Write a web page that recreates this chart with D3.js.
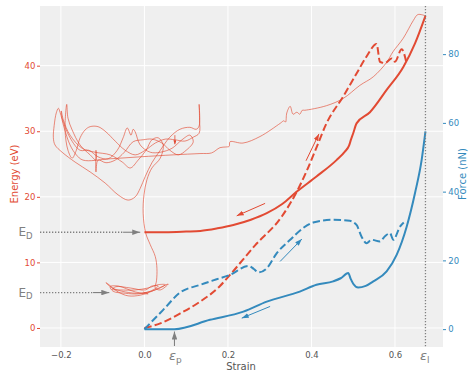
<!DOCTYPE html>
<html>
<head>
<meta charset="utf-8">
<script src="https://cdn.jsdelivr.net/npm/d3@7"></script>
<style>
  body { margin: 0; background: #fff; }
  text { font-family: "DejaVu Sans", sans-serif; }
</style>
</head>
<body>
<svg id="chart" width="468" height="372"></svg>
<script>
// ---- tick values / labels ----
const strainTicks = [-0.2, 0, 0.2, 0.4, 0.6];
const strainTickLabels = ["\u22120.2", "0.0", "0.2", "0.4", "0.6"];
const energyTicks = [0, 10, 20, 30, 40];
const forceTicks = [0, 20, 40, 60, 80];

// ---- energy (eV) vs strain ----
// relaxed path, solid
const energyRelaxed = [
  [0, 14.6], [0.05, 14.6], [0.10, 14.7], [0.134, 14.8], [0.175, 15.2], [0.213, 15.7],
  [0.255, 16.5], [0.293, 17.5], [0.33, 18.9], [0.365, 20.8], [0.412, 23.1], [0.46, 25.6],
  [0.48, 26.9], [0.49, 27.8], [0.495, 28.8], [0.50, 29.7], [0.508, 31.2], [0.54, 32.9],
  [0.58, 36.3], [0.62, 39.8], [0.648, 43.4], [0.673, 47.6]
];
// loading path from the pristine state, dashed
const energyLoading = [
  [0, 0], [0.038, 0.7], [0.085, 2.2], [0.133, 4.0], [0.181, 6.4], [0.205, 8.1],
  [0.265, 12.6], [0.329, 17.0], [0.365, 20.8], [0.389, 24.0], [0.41, 27.2], [0.436, 31.2],
  [0.476, 35.3], [0.508, 38.8], [0.532, 41.4], [0.556, 43.3], [0.564, 40.6], [0.576, 40.4],
  [0.592, 41.1], [0.600, 40.6], [0.616, 42.5], [0.628, 40.3]
];
// unloading trajectory, thin
const energyTrajectory = [
  [0.673, 47.6], [0.655, 47.8], [0.644, 46.9], [0.620, 44.2], [0.595, 42.1], [0.580, 40.5],
  [0.548, 38.3], [0.516, 37.0], [0.476, 35.0], [0.436, 33.9], [0.384, 33.2], [0.378, 33.2],
  [0.372, 32.6], [0.365, 32.9], [0.356, 32.6], [0.349, 33.8], [0.341, 32.8], [0.338, 31.4],
  [0.334, 31.6], [0.325, 31.2], [0.277, 29.2], [0.236, 28.2], [0.205, 28.4], [0.203, 27.7],
  [0.195, 27.6], [0.181, 27.5], [0.161, 26.7], [0.133, 26.6], [0.069, 26.4], [-0.010, 26.1],
  [-0.082, 25.8], [-0.147, 25.6],
  [-0.163, 26.4], [-0.178, 27.9], [-0.192, 30.5], [-0.202, 32.9], [-0.206, 33.5], [-0.211, 32.8],
  [-0.216, 30.9], [-0.218, 29.0], [-0.214, 27.9], [-0.197, 26.8], [-0.166, 25.3], [-0.130, 23.8],
  [-0.094, 22.1], [-0.063, 20.3], [-0.039, 19.5], [-0.022, 20.0], [-0.010, 21.3], [0.002, 23.1],
  [0.018, 25.2], [0.038, 27.1], [0.061, 29.1], [0.085, 30.3], [0.109, 30.6], [0.124, 30.3],
  [0.131, 30.8], [0.131, 34.1], [0.132, 31.7], [0.131, 29.7], [0.117, 29.1], [0.097, 28.5],
  [0.073, 28.7], [0.050, 28.8], [0.026, 28.2], [0.002, 27.1], [-0.022, 26.4], [-0.046, 27.1],
  [-0.070, 28.5], [-0.092, 29.9], [-0.111, 30.7], [-0.130, 30.7], [-0.142, 30.2], [-0.154, 29.0],
  [-0.163, 27.1], [-0.173, 25.9], [-0.183, 27.1], [-0.190, 30.2], [-0.186, 34.1], [-0.183, 32.0],
  [-0.173, 30.2], [-0.154, 27.9], [-0.130, 26.4], [-0.116, 25.6], [-0.116, 27.1], [-0.116, 23.8],
  [-0.111, 25.6], [-0.092, 25.2], [-0.070, 25.6], [-0.048, 26.8], [-0.027, 28.4], [-0.003, 28.7],
  [0.018, 28.8], [0.042, 28.2], [0.061, 27.1], [0.081, 26.4], [0.100, 27.1], [0.117, 28.4],
  [0.109, 29.4], [0.090, 28.7], [0.066, 27.4], [0.038, 26.8], [0.014, 26.8], [-0.010, 27.9],
  [-0.022, 29.9], [-0.027, 30.3], [-0.032, 29.4], [-0.041, 30.5], [-0.051, 29.0], [-0.065, 27.1],
  [-0.087, 25.8], [-0.111, 26.1], [-0.133, 27.1], [-0.154, 27.1], [-0.178, 29.0], [-0.197, 32.0],
  [-0.199, 33.1], [-0.194, 31.7], [-0.178, 29.4], [-0.149, 27.4], [-0.118, 26.8], [-0.082, 26.4],
  [-0.053, 25.3], [-0.034, 24.4], [-0.015, 25.6], [0.004, 27.1], [0.018, 28.7], [0.033, 29.0],
  [0.045, 27.9], [0.038, 25.9], [0.018, 24.4], [0.006, 22.6], [-0.001, 20.3], [-0.003, 17.5],
  [0.003, 14.5], [0.014, 12.7], [0.026, 10.9], [0.030, 9.1], [0.029, 7.2], [0.026, 6.1],
  [0.038, 5.8], [0.057, 6.7], [0.042, 6.3], [0.014, 5.5], [-0.010, 5.0], [-0.039, 4.9],
  [-0.063, 5.5], [-0.087, 6.7], [-0.092, 6.9], [-0.077, 6.1], [-0.046, 5.5], [-0.010, 5.3],
  [0.026, 5.8], [0.050, 6.6], [0.033, 6.6], [0.009, 6.1], [-0.022, 5.8], [-0.058, 5.8],
  [-0.077, 5.9], [-0.068, 6.3], [-0.034, 6.1], [0.002, 5.8], [0.018, 6.4], [0.033, 6.4],
  [0.014, 5.6], [-0.015, 5.2], [-0.046, 5.3], [-0.075, 5.6], [-0.082, 6.3], [-0.063, 6.4],
  [-0.022, 5.5], [0.009, 5.2], [-0.003, 5.5]
];

// ---- force (nN) vs strain ----
const forceRelaxed = [
  [0, 0], [0.072, 0], [0.157, 2.7], [0.237, 5.1], [0.293, 8.0], [0.372, 10.9], [0.412, 12.9],
  [0.452, 13.9], [0.47, 14.8], [0.488, 16.3], [0.494, 14.6], [0.50, 13.2], [0.512, 12.1],
  [0.53, 12.6], [0.548, 13.9], [0.58, 16.8], [0.604, 21.6], [0.628, 29.8], [0.648, 39.6],
  [0.664, 49.3], [0.673, 57.5]
];
const forceLoading = [
  [0, 0], [0.045, 5.6], [0.085, 10.6], [0.134, 12.9], [0.173, 14.5], [0.205, 15.8],
  [0.249, 18.4], [0.262, 17.5], [0.273, 16.5], [0.293, 17.7], [0.317, 22.1], [0.349, 26.0],
  [0.38, 29.4], [0.404, 31.0], [0.452, 31.8], [0.492, 31.5], [0.508, 30.3], [0.52, 26.9],
  [0.532, 25.0], [0.544, 26.0], [0.564, 25.5], [0.576, 27.0], [0.588, 27.9], [0.596, 26.0],
  [0.612, 29.8], [0.621, 31.0]
];

// ---- markers ----
const edLevels = [14.6, 5.4];            // E_D energies
const edArrowTail = [-0.051, -0.123];    // strain where the arrow shafts begin
const edArrowTip = [-0.010, -0.084];     // strain of the arrow tips
const strainP = 0.072;
const strainL = 0.673;
const energyArrows = [
  [[0.387, 25.5], [0.418, 29.6]],
  [[0.289, 19.0], [0.221, 17.1]],
  [[0.073, 29.4], [0.073, 28.0]]
];
const forceArrows = [
  [[0.325, 19.7], [0.377, 26.2]],
  [[0.301, 6.6], [0.233, 3.2]]
];

// ---- colours ----
const RED = "#E24A33", BLUE = "#348ABD", GREY = "#808080";

const svg = d3.select("#chart");
const pL = 40, pR = 443, pT = 6, pB = 347;

const sx = d3.scaleLinear().domain([-0.25, 0.715]).range([pL, pR]);
const sy = d3.scaleLinear().domain([-2.9, 49.1]).range([pB, pT]);
const sf = d3.scaleLinear().domain([-5.2, 94.0]).range([pB, pT]);

// arrow heads
const defs = svg.append("defs");
function head(id, color, len, wid) {
  defs.append("marker")
    .attr("id", id).attr("markerUnits", "userSpaceOnUse")
    .attr("viewBox", `0 0 ${len} ${wid}`)
    .attr("refX", len).attr("refY", wid / 2)
    .attr("markerWidth", len).attr("markerHeight", wid)
    .attr("orient", "auto")
    .append("path").attr("d", `M0,0L${len},${wid / 2}L0,${wid}Z`).attr("fill", color);
}
head("hRed", RED, 7, 5);
head("hBlue", BLUE, 7, 5);
head("hGrey", GREY, 8, 5.5);
head("hRedSmall", RED, 4, 3);

defs.append("clipPath").attr("id", "plotClip")
  .append("rect").attr("x", pL).attr("y", pT).attr("width", pR - pL).attr("height", pB - pT);

// background + grid
svg.append("rect").attr("x", pL).attr("y", pT).attr("width", pR - pL).attr("height", pB - pT)
  .attr("fill", "#efefef");
const grid = svg.append("g").attr("stroke", "#fff").attr("stroke-width", 1);
strainTicks.forEach(t => grid.append("line").attr("x1", sx(t)).attr("x2", sx(t)).attr("y1", pT).attr("y2", pB));
energyTicks.forEach(t => grid.append("line").attr("y1", sy(t)).attr("y2", sy(t)).attr("x1", pL).attr("x2", pR));

// axes
const xAxis = svg.append("g").attr("transform", `translate(0,${pB})`)
  .call(d3.axisBottom(sx).tickValues(strainTicks).tickFormat((d, i) => strainTickLabels[i]).tickSize(0).tickPadding(4.5));
const yAxis = svg.append("g").attr("transform", `translate(${pL},0)`)
  .call(d3.axisLeft(sy).tickValues(energyTicks).tickSize(3).tickPadding(1.7));
const fAxis = svg.append("g").attr("transform", `translate(${pR},0)`)
  .call(d3.axisRight(sf).tickValues(forceTicks).tickSize(3).tickPadding(2.3));
[xAxis, yAxis, fAxis].forEach(a => {
  a.select(".domain").remove();
  a.selectAll("text").attr("font-size", "8.5px").attr("font-family", "DejaVu Sans");
});
xAxis.selectAll("text").attr("fill", "#555");
yAxis.selectAll("text").attr("fill", RED);
yAxis.selectAll("line").attr("stroke", RED);
fAxis.selectAll("text").attr("fill", BLUE);
fAxis.selectAll("line").attr("stroke", BLUE);

// axis titles
svg.append("text").attr("x", 241).attr("y", 370).attr("text-anchor", "middle")
  .attr("font-size", "10px").attr("fill", "#555").text("Strain");
svg.append("text").attr("transform", "translate(18,174) rotate(-90)").attr("text-anchor", "middle")
  .attr("font-size", "10px").attr("fill", RED).text("Energy (eV)");
svg.append("text").attr("transform", "translate(465.5,174) rotate(-90)").attr("text-anchor", "middle")
  .attr("font-size", "10px").attr("fill", BLUE).text("Force (nN)");

// curves
const plot = svg.append("g").attr("clip-path", "url(#plotClip)");
const mono = d3.curveMonotoneX;
const eLine = d3.line().x(d => sx(d[0])).y(d => sy(d[1]));
const fLine = d3.line().x(d => sx(d[0])).y(d => sf(d[1]));

plot.append("path")
  .attr("d", eLine.curve(d3.curveCatmullRom.alpha(0.5))(energyTrajectory))
  .attr("fill", "none").attr("stroke", RED).attr("stroke-width", 0.8).attr("stroke-opacity", 0.8);

plot.append("path").attr("d", eLine.curve(mono)(energyRelaxed))
  .attr("fill", "none").attr("stroke", RED).attr("stroke-width", 2);
plot.append("path").attr("d", eLine.curve(mono)(energyLoading))
  .attr("fill", "none").attr("stroke", RED).attr("stroke-width", 2).attr("stroke-dasharray", "7.4,3.2");
plot.append("path").attr("d", fLine.curve(mono)(forceRelaxed))
  .attr("fill", "none").attr("stroke", BLUE).attr("stroke-width", 2);
plot.append("path").attr("d", fLine.curve(mono)(forceLoading))
  .attr("fill", "none").attr("stroke", BLUE).attr("stroke-width", 2).attr("stroke-dasharray", "7.4,3.2");

// direction arrows
energyArrows.forEach((a, i) => {
  plot.append("line")
    .attr("x1", sx(a[0][0])).attr("y1", sy(a[0][1])).attr("x2", sx(a[1][0])).attr("y2", sy(a[1][1]))
    .attr("stroke", RED).attr("stroke-width", i === 2 ? 0.8 : 1)
    .attr("marker-end", i === 2 ? "url(#hRedSmall)" : "url(#hRed)");
});
forceArrows.forEach(a => {
  plot.append("line")
    .attr("x1", sx(a[0][0])).attr("y1", sf(a[0][1])).attr("x2", sx(a[1][0])).attr("y2", sf(a[1][1]))
    .attr("stroke", BLUE).attr("stroke-width", 1).attr("marker-end", "url(#hBlue)");
});

// E_D guides
edLevels.forEach((e, i) => {
  svg.append("line").attr("x1", pL).attr("x2", sx(edArrowTail[i])).attr("y1", sy(e)).attr("y2", sy(e))
    .attr("stroke", GREY).attr("stroke-width", 1.3).attr("stroke-dasharray", "1.3,1.7");
  svg.append("line").attr("x1", sx(edArrowTail[i])).attr("x2", sx(edArrowTip[i])).attr("y1", sy(e)).attr("y2", sy(e))
    .attr("stroke", GREY).attr("stroke-width", 1.1).attr("marker-end", "url(#hGrey)");
  const t = svg.append("text").attr("x", 18.5).attr("y", sy(e) + 4).attr("fill", GREY).attr("font-size", "12px");
  t.append("tspan").text("E");
  t.append("tspan").attr("font-size", "8.5px").attr("dy", 2.5).text("D");
});

// strain markers
svg.append("line").attr("x1", sx(strainL)).attr("x2", sx(strainL)).attr("y1", pT).attr("y2", pB)
  .attr("stroke", GREY).attr("stroke-width", 1.3).attr("stroke-dasharray", "1.3,1.7");
svg.append("line").attr("x1", sx(strainP)).attr("x2", sx(strainP)).attr("y1", 346).attr("y2", 331.5)
  .attr("stroke", GREY).attr("stroke-width", 1.1).attr("marker-end", "url(#hGrey)");

function epsLabel(xc, sub) {
  const t = svg.append("text").attr("x", xc - 5.5).attr("y", 359.5).attr("fill", GREY).attr("font-size", "13px");
  t.append("tspan").attr("font-style", "italic").text("\u03b5");
  t.append("tspan").attr("font-size", "9px").attr("dy", 3).text(sub);
}
epsLabel(sx(strainP), "p");
epsLabel(sx(strainL), "l");
</script>
</body>
</html>
